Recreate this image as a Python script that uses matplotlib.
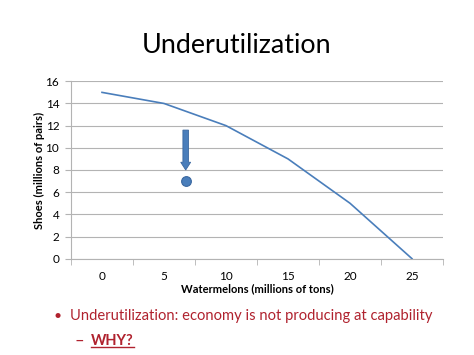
import matplotlib.pyplot as plt
from matplotlib.patches import FancyArrow

# production possibilities frontier
watermelons = [0, 5, 10, 15, 20, 25]
shoes = [15, 14, 12, 9, 5, 0]

# underutilized point and the arrow pointing at it
point_x, point_y = 6.75, 7
arrow_top, arrow_tip = 11.6, 8.0

y_ticks = [0, 2, 4, 6, 8, 10, 12, 14, 16]

blue = "#4a7ebb"
grid_gray = "#b3b3b3"
red = "#b0222e"

plt.rcParams["font.family"] = ["Lato", "DejaVu Sans"]

fig = plt.figure(figsize=(4.74, 3.55), dpi=100)
ax = fig.add_axes([0.1498, 0.2713, 0.7848, 0.4997])

ax.plot(watermelons, shoes, color=blue, linewidth=1.2)
ax.plot([point_x], [point_y], marker="o", markersize=7, color=blue,
        markeredgecolor="#3a67a0", markeredgewidth=0.8)
ax.add_patch(FancyArrow(point_x, arrow_top, 0, arrow_tip - arrow_top,
                        width=0.45, head_width=0.8, head_length=0.7,
                        length_includes_head=True, color=blue, ec="#3a67a0", lw=0.6))

ax.set_xlim(-2.5, 27.5)
ax.set_ylim(0, 16)
ax.set_yticks(y_ticks)
ax.set_xticks(watermelons)
ax.set_xticks([-2.5 + 5 * i for i in range(7)], minor=True)
ax.tick_params(axis="x", which="major", length=0, pad=9, labelsize=8.5)
ax.tick_params(axis="x", which="minor", length=4, color=grid_gray)
ax.tick_params(axis="y", length=4, color=grid_gray, labelsize=8.5, pad=4.5)
ax.grid(axis="y", color=grid_gray, linewidth=0.8)
ax.set_axisbelow(True)
for s in ["top", "right"]:
    ax.spines[s].set_visible(False)
for s in ["left", "bottom"]:
    ax.spines[s].set_color(grid_gray)

ax.set_xlabel("Watermelons (millions of tons)", fontsize=8, fontweight="bold", labelpad=1)
ax.set_ylabel("Shoes (millions of pairs)", fontsize=8, fontweight="bold", labelpad=0)

fig.text(0.5, 0.873, "Underutilization", ha="center", va="center", fontsize=19.4)
fig.text(0.113, 0.11, "\u2022", ha="left", va="center", fontsize=10, color=red)
fig.text(0.148, 0.11, "Underutilization: economy is not producing at capability",
         ha="left", va="center", fontsize=10.6, color=red)
fig.text(0.158, 0.04, "\u2013", ha="left", va="center", fontsize=12, color=red)
why = fig.text(0.192, 0.04, "WHY?", ha="left", va="center", fontsize=10.5,
               fontweight="bold", color=red)

# underline under WHY?
fig.canvas.draw()
bb = why.get_window_extent().transformed(fig.transFigure.inverted())
fig.add_artist(plt.Line2D([bb.x0, bb.x1], [bb.y0 + 0.002, bb.y0 + 0.002],
                          color=red, linewidth=1, transform=fig.transFigure))

fig.savefig("out.png", dpi=100)
